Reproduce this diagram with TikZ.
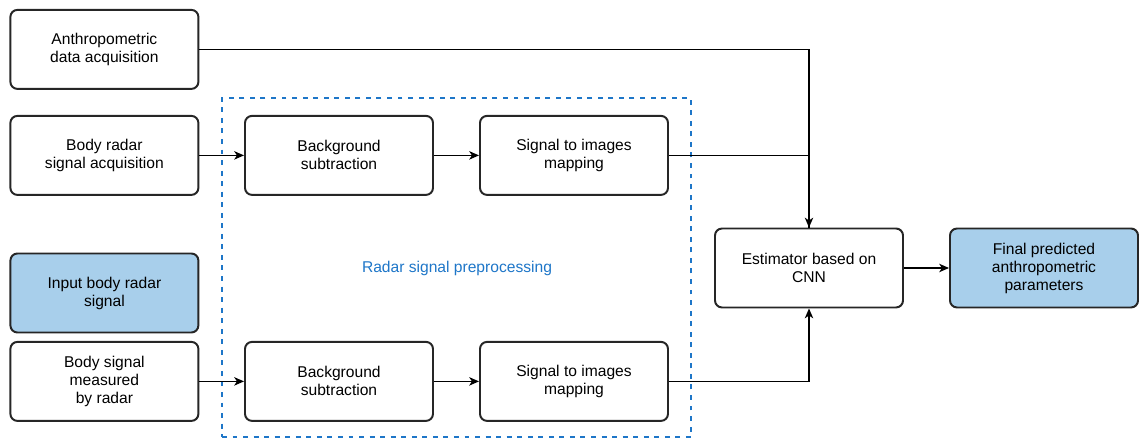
\documentclass[tikz,border=0pt]{standalone}
\usepackage{fontspec}
\setmainfont{Liberation Sans}
\usetikzlibrary{positioning, arrows.meta}

\definecolor{box_blue}{RGB}{168,207,235}
\definecolor{prep_blue}{RGB}{30,118,200}

\begin{document}
\begin{tikzpicture}[
    font=\fontsize{11.1}{12.8}\selectfont,
    blk/.style={rectangle, draw=black!85, line width=1.4pt, fill=white,
                minimum width=4.7cm, minimum height=1.975cm,
                rounded corners=5pt, align=center, inner sep=2pt},
    inblk/.style={blk, fill=box_blue},
    flow/.style={->, >={Stealth[length=7pt, width=6pt, inset=2pt]},
                 line width=1.1pt, black}
]
    \useasboundingbox (0,0) rectangle (28.575,10.975);

    % Preprocessing frame
    \node[draw=prep_blue, line width=1.8pt, dash pattern=on 3.5pt off 4pt,
          minimum width=11.725cm, minimum height=8.475cm, inner sep=0pt]
        (frame) at (11.4125, 4.2875) {};
    \node[text=prep_blue] (fr_lbl) at (11.425, 4.275) {Radar signal preprocessing};

    % Inputs
    \node[blk]   (anth) at (2.61, 9.74) {Anthropometric\\data acquisition};
    \node[blk]   (acq)  at (2.61, 7.09) {Body radar\\signal acquisition};
    \node[inblk] (inp)  at (2.61, 3.65) {Input body radar\\signal};
    \node[blk]   (meas) at (2.61, 1.44) {Body signal\\measured\\by radar};

    % Preprocessing chains
    \node[blk] (bg1)  at ( 8.475, 7.09) {Background\\subtraction};
    \node[blk] (map1) at (14.35,  7.09) {Signal to images\\mapping};
    \node[blk] (bg2)  at ( 8.475, 1.44) {Background\\subtraction};
    \node[blk] (map2) at (14.35,  1.44) {Signal to images\\mapping};

    % Estimator and output
    \node[blk]   (est) at (20.225, 4.275) {Estimator based on\\CNN};
    \node[inblk] (out) at (26.1,   4.275) {Final predicted\\anthropometric\\parameters};

    % Arrows
    \draw[flow] (acq) -- (bg1);
    \draw[flow] (bg1) -- (map1);
    \draw[flow] (meas) -- (bg2);
    \draw[flow] (bg2) -- (map2);
    \draw[flow] (anth.east) -| (est.north);
    \draw[line width=1.1pt] (map1.east) -| (est.north);
    \draw[flow] (map2.east) -| (est.south);
    \draw[flow] (est) -- (out);

\end{tikzpicture}
\end{document}
